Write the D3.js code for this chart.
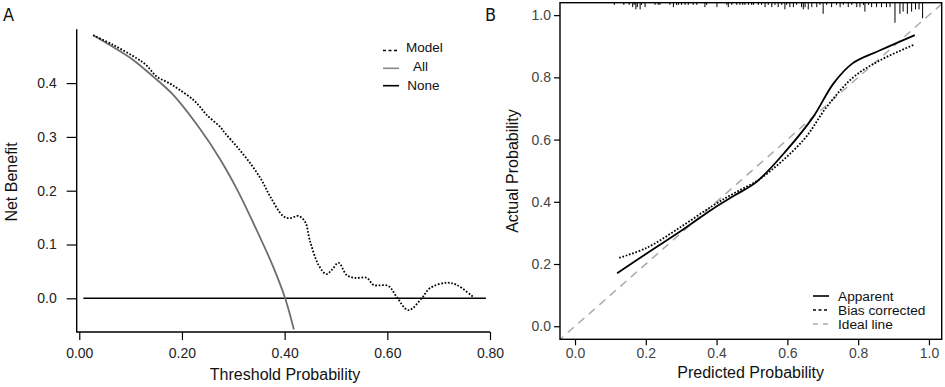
<!DOCTYPE html>
<html lang="en">
  <head>
    <meta charset="UTF-8" />
    <title>DCA and calibration</title>
    <style>
      body { margin: 0; background: #fff; }
      svg { font-family: "Liberation Sans", Arial, sans-serif; }
      .axis .domain { display: none; }
      .axis line { stroke: #000; stroke-width: 1.2; }
      .axis text { font-size: 14px; fill: #222; }
      #right .axis text { fill: #444; }
    </style>
  </head>
  <body>
    <svg id="container" width="945" height="387">
      <g id="left"></g>
      <g id="right"></g>
    </svg>
  </body>
  <script src="https://cdn.jsdelivr.net/npm/d3@7"></script>
  <script>
    // panel A: decision curve
    let modelX = [0.027, 0.066, 0.112, 0.131, 0.151, 0.177, 0.196, 0.222, 0.235, 0.248, 0.274, 0.284, 0.307, 0.333, 0.355, 0.372, 0.397, 0.410, 0.427, 0.440, 0.449, 0.466, 0.481, 0.492, 0.505, 0.521, 0.537, 0.560, 0.573, 0.602, 0.618, 0.641, 0.667, 0.683, 0.716, 0.735, 0.768];
    let modelY = [0.489, 0.471, 0.446, 0.433, 0.412, 0.399, 0.387, 0.369, 0.356, 0.341, 0.319, 0.307, 0.282, 0.251, 0.220, 0.189, 0.153, 0.149, 0.153, 0.142, 0.108, 0.062, 0.045, 0.053, 0.066, 0.043, 0.038, 0.038, 0.025, 0.023, 0.003, -0.022, 0.000, 0.019, 0.029, 0.025, 0.002];
    let allX = [0.027, 0.066, 0.105, 0.144, 0.183, 0.235, 0.274, 0.307, 0.339, 0.378, 0.401, 0.418];
    let allY = [0.489, 0.467, 0.443, 0.412, 0.378, 0.315, 0.259, 0.203, 0.140, 0.058, 0.0, -0.058];
    let noneX = [0.008, 0.792];
    let noneY = [0, 0];
    let dcaXTicks = [0, 0.2, 0.4, 0.6, 0.8];
    let dcaYTicks = [0, 0.1, 0.2, 0.3, 0.4];

    // panel B: calibration curve
    let apparentX = [0.119, 0.2025, 0.30, 0.39, 0.45, 0.513, 0.598, 0.673, 0.73, 0.784, 0.862, 0.96];
    let apparentY = [0.170, 0.234, 0.307, 0.378, 0.420, 0.464, 0.566, 0.673, 0.78, 0.845, 0.887, 0.936];
    let biasX = [0.125, 0.2025, 0.30, 0.39, 0.45, 0.523, 0.645, 0.711, 0.786, 0.862, 0.96];
    let biasY = [0.220, 0.252, 0.320, 0.388, 0.428, 0.474, 0.598, 0.705, 0.800, 0.855, 0.906];
    let rugP = [0.111, 0.138, 0.153, 0.163, 0.167, 0.172, 0.176, 0.184, 0.188, 0.198, 0.226, 0.235, 0.240, 0.268, 0.278, 0.287, 0.292, 0.301, 0.311, 0.320, 0.334, 0.344, 0.367, 0.372, 0.401, 0.429, 0.433, 0.443, 0.457, 0.466, 0.474, 0.480, 0.490, 0.499, 0.504, 0.518, 0.527, 0.537, 0.546, 0.556, 0.565, 0.574, 0.584, 0.593, 0.598, 0.607, 0.617, 0.626, 0.640, 0.645, 0.650, 0.659, 0.669, 0.683, 0.692, 0.701, 0.711, 0.725, 0.739, 0.749, 0.758, 0.772, 0.782, 0.796, 0.805, 0.815, 0.819, 0.829, 0.838, 0.852, 0.866, 0.880, 0.890, 0.904, 0.918, 0.927, 0.939, 0.951, 0.962, 0.972, 0.982];
    let rugN = [1, 1, 1, 2, 1, 3, 2, 3, 1, 2, 1, 1, 1, 1, 2, 1, 1, 1, 1, 1, 1, 1, 2, 1, 2, 1, 2, 1, 1, 1, 1, 1, 1, 1, 1, 1, 1, 2, 1, 2, 1, 2, 1, 3, 1, 2, 2, 1, 2, 3, 2, 3, 2, 2, 1, 5, 1, 2, 1, 2, 1, 2, 1, 2, 2, 1, 4, 1, 2, 2, 2, 2, 2, 9, 5, 4, 5, 4, 3, 3, 7];
    let calTicks = [0, 0.2, 0.4, 0.6, 0.8, 1.0];

    let zip = (xs, ys) => xs.map((x, i) => ({ x: x, y: ys[i] }));
    let svg = d3.select("#container");
    let defs = svg.append("defs");

    // ---------- panel A ----------
    let left = d3.select("#left");
    let xA = d3.scaleLinear().domain([-0.005, 0.80]).range([76.7, 490]);
    let yA = d3.scaleLinear().domain([-0.0626, 0.5]).range([332, 29.3]);

    defs.append("clipPath").attr("id", "clipA")
      .append("rect")
      .attr("x", xA.range()[0]).attr("y", yA.range()[1])
      .attr("width", xA.range()[1] - xA.range()[0])
      .attr("height", yA.range()[0] - yA.range()[1]);

    left.append("g").attr("class", "axis")
      .attr("transform", "translate(" + xA.range()[0] + ",0)")
      .call(d3.axisLeft(yA).tickValues(dcaYTicks).tickFormat(d3.format(".1f")).tickSize(10).tickPadding(10));
    left.append("g").attr("class", "axis")
      .attr("transform", "translate(0," + yA.range()[0] + ")")
      .call(d3.axisBottom(xA).tickValues(dcaXTicks).tickFormat(d3.format(".2f")).tickSize(8).tickPadding(8));

    // L-shaped frame
    left.append("path")
      .attr("d", "M" + xA.range()[0] + "," + yA.range()[1] + "V" + yA.range()[0] + "H" + xA.range()[1])
      .attr("fill", "none").attr("stroke", "#000").attr("stroke-width", 1.4);

    let lineA = d3.line().x(d => xA(d.x)).y(d => yA(d.y)).curve(d3.curveCatmullRom.alpha(0.5));
    let plotA = left.append("g").attr("clip-path", "url(#clipA)");
    plotA.append("path").datum(zip(noneX, noneY)).attr("d", lineA)
      .attr("fill", "none").attr("stroke", "#000").attr("stroke-width", 1.6);
    plotA.append("path").datum(zip(allX, allY)).attr("d", lineA)
      .attr("fill", "none").attr("stroke", "#6e6e6e").attr("stroke-width", 1.8);
    plotA.append("path").datum(zip(modelX, modelY)).attr("d", lineA)
      .attr("fill", "none").attr("stroke", "#000").attr("stroke-width", 1.8)
      .attr("stroke-dasharray", "1.7,1.7");

    // legend A
    let legA = [
      { name: "Model", y: 47, ly: 50.5, tx: 406, color: "#000", dash: "3,2.5" },
      { name: "All", y: 66.7, ly: 68.3, tx: 413, color: "#888", dash: null },
      { name: "None", y: 85.3, ly: 85.7, tx: 407.3, color: "#000", dash: null }
    ];
    legA.forEach(d => {
      left.append("line").attr("x1", 383).attr("x2", 399).attr("y1", d.ly).attr("y2", d.ly)
        .attr("stroke", d.color).attr("stroke-width", 1.6).attr("stroke-dasharray", d.dash);
      left.append("text").attr("x", d.tx).attr("y", d.y).attr("dy", "0.35em")
        .attr("font-size", 13.5).attr("fill", "#111").text(d.name);
    });

    left.append("text").attr("x", 285).attr("y", 380).attr("text-anchor", "middle")
      .attr("font-size", 16).attr("fill", "#111").text("Threshold Probability");
    left.append("text").attr("transform", "translate(16.5,182) rotate(-90)")
      .attr("text-anchor", "middle").attr("font-size", 16).attr("fill", "#111").text("Net Benefit");
    left.append("text").attr("x", 3).attr("y", 21)
      .attr("font-family", "'Liberation Sans Narrow', 'DejaVu Sans Condensed', sans-serif")
      .attr("font-size", 18).attr("fill", "#111").text("A");

    // ---------- panel B ----------
    let right = d3.select("#right");
    let xB = d3.scaleLinear().domain([-0.0424, 1.036]).range([560, 941.7]);
    let yB = d3.scaleLinear().domain([-0.042, 1.04]).range([339.3, 2.7]);

    defs.append("clipPath").attr("id", "clipB")
      .append("rect")
      .attr("x", xB.range()[0]).attr("y", yB.range()[1])
      .attr("width", xB.range()[1] - xB.range()[0])
      .attr("height", yB.range()[0] - yB.range()[1]);

    right.append("g").attr("class", "axis")
      .attr("transform", "translate(" + xB.range()[0] + ",0)")
      .call(d3.axisLeft(yB).tickValues(calTicks).tickFormat(d3.format(".1f")).tickSize(6).tickPadding(3));
    right.append("g").attr("class", "axis")
      .attr("transform", "translate(0," + yB.range()[0] + ")")
      .call(d3.axisBottom(xB).tickValues(calTicks).tickFormat(d3.format(".1f")).tickSize(6).tickPadding(3));

    let plotB = right.append("g").attr("clip-path", "url(#clipB)");

    // ideal line across the whole box
    plotB.append("line")
      .attr("x1", xB(-0.05)).attr("y1", yB(-0.05)).attr("x2", xB(1.05)).attr("y2", yB(1.05))
      .attr("stroke", "#aaa").attr("stroke-width", 1.5).attr("stroke-dasharray", "8,6");

    // rug of predicted probabilities at the top
    let rugLen = d3.scaleLinear().domain([0, 9]).range([0, 20]);
    plotB.selectAll(".rug").data(zip(rugP, rugN)).join("line").attr("class", "rug")
      .attr("x1", d => xB(d.x)).attr("x2", d => xB(d.x))
      .attr("y1", yB.range()[1]).attr("y2", d => yB.range()[1] + rugLen(d.y))
      .attr("stroke", "#000").attr("stroke-width", 1);

    let lineB = d3.line().x(d => xB(d.x)).y(d => yB(d.y)).curve(d3.curveCatmullRom.alpha(0.5));
    plotB.append("path").datum(zip(biasX, biasY)).attr("d", lineB)
      .attr("fill", "none").attr("stroke", "#000").attr("stroke-width", 1.8)
      .attr("stroke-dasharray", "1.7,1.7");
    plotB.append("path").datum(zip(apparentX, apparentY)).attr("d", lineB)
      .attr("fill", "none").attr("stroke", "#000").attr("stroke-width", 1.8);

    right.append("rect")
      .attr("x", xB.range()[0]).attr("y", yB.range()[1])
      .attr("width", xB.range()[1] - xB.range()[0])
      .attr("height", yB.range()[0] - yB.range()[1])
      .attr("fill", "none").attr("stroke", "#000").attr("stroke-width", 1.4);

    // legend B
    let legB = [
      { name: "Apparent", y: 296, color: "#000", dash: null },
      { name: "Bias corrected", y: 310, color: "#000", dash: "3,2.5" },
      { name: "Ideal line", y: 324, color: "#aaa", dash: "5,5" }
    ];
    legB.forEach(d => {
      right.append("line").attr("x1", 813).attr("x2", 829).attr("y1", d.y).attr("y2", d.y)
        .attr("stroke", d.color).attr("stroke-width", 1.6).attr("stroke-dasharray", d.dash);
      right.append("text").attr("x", 838).attr("y", d.y).attr("dy", "0.35em")
        .attr("font-size", 13.7).attr("fill", "#111").text(d.name);
    });

    right.append("text").attr("x", 750.7).attr("y", 378).attr("text-anchor", "middle")
      .attr("font-size", 16).attr("fill", "#111").text("Predicted Probability");
    right.append("text").attr("transform", "translate(518,171) rotate(-90)")
      .attr("text-anchor", "middle").attr("font-size", 16).attr("fill", "#111").text("Actual Probability");
    right.append("text").attr("x", 485).attr("y", 21)
      .attr("font-family", "'Liberation Sans Narrow', 'DejaVu Sans Condensed', sans-serif")
      .attr("font-size", 18).attr("fill", "#111").text("B");
  </script>
</html>
